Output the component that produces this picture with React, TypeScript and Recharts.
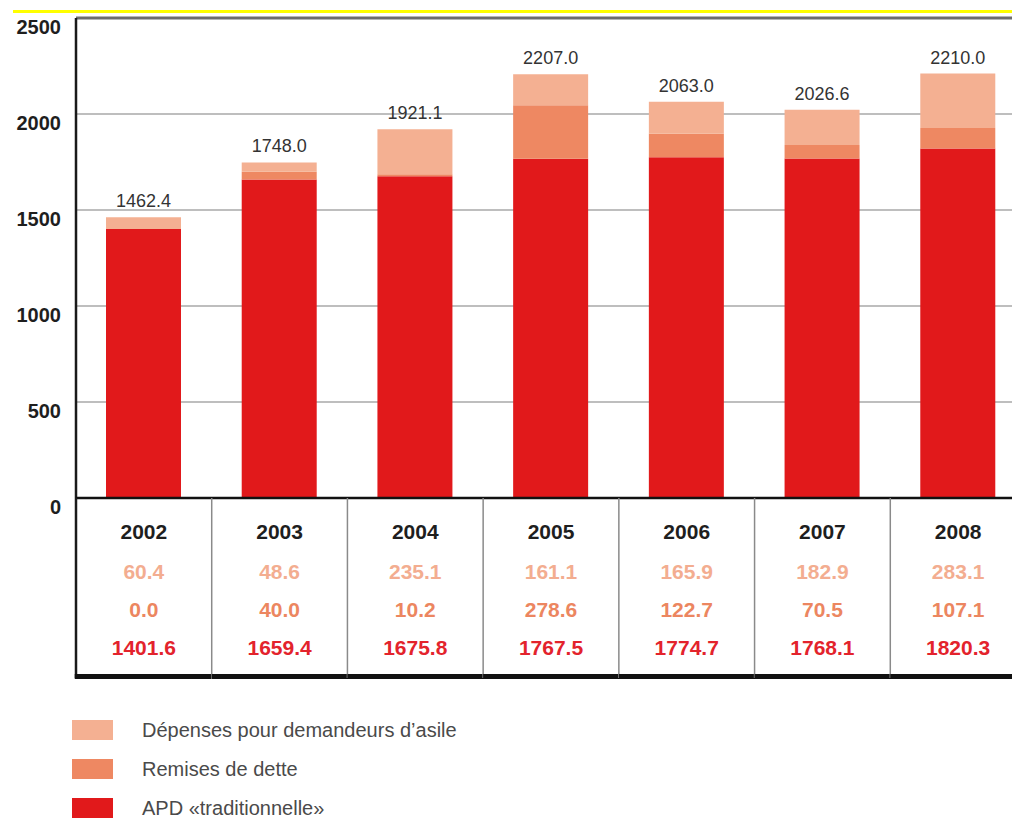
import { Bar, BarChart, CartesianGrid, LabelList, ReferenceLine, XAxis, YAxis } from "recharts";

// ─── data ───────────────────────────────────────────────────────────────
const YEARS = ["2002", "2003", "2004", "2005", "2006", "2007", "2008"];
const ASILE = [60.4, 48.6, 235.1, 161.1, 165.9, 182.9, 283.1];
const DETTE = [0.0, 40.0, 10.2, 278.6, 122.7, 70.5, 107.1];
const APD = [1401.6, 1659.4, 1675.8, 1767.5, 1774.7, 1768.1, 1820.3];
const TOTAL = [1462.4, 1748.0, 1921.1, 2207.0, 2063.0, 2026.6, 2210.0];
const Y_TICKS = [0, 500, 1000, 1500, 2000, 2500];

const C_ASILE = "#f4b092";
const C_DETTE = "#ee8862";
const C_APD = "#e1191b";

const LEGEND = [
  { label: "Dépenses pour demandeurs d’asile", color: C_ASILE },
  { label: "Remises de dette", color: C_DETTE },
  { label: "APD «traditionnelle»", color: C_APD },
];

const TABLE_ROWS = [
  { values: ASILE, color: "#f3ad90" },
  { values: DETTE, color: "#ec8660" },
  { values: APD, color: "#e3232c" },
];

const data = YEARS.map((year, i) => ({ year, apd: APD[i], dette: DETTE[i], asile: ASILE[i], total: TOTAL[i] }));

const FONT = "'Liberation Sans', Arial, sans-serif";

// chart geometry
const W = 1026;
const H = 690;
const Y_AXIS_W = 76;
const COL_W = (W - Y_AXIS_W) / YEARS.length;

// y axis labels sit a bit under the gridline
function YTick(props: any) {
  const { y, payload } = props;
  return (
    <text x={61} y={y + 16} textAnchor="end" fontFamily={FONT} fontSize={20} fontWeight={700} fill="#1e1e1e">
      {payload.value}
    </text>
  );
}

// x axis tick = one column of the data table
function TableTick(props: any) {
  const { x, y, payload, index } = props;
  const i = index ?? YEARS.indexOf(payload.value);
  const left = x - COL_W / 2;
  const rowY = [y + 81, y + 119, y + 157];
  return (
    <g>
      <line
        x1={left}
        x2={left}
        y1={y}
        y2={y + 180}
        stroke={i === 0 ? "#1a1a1a" : "#8a8a8a"}
        strokeWidth={i === 0 ? 2.5 : 1.5}
      />
      <rect x={left - (i === 0 ? 1.25 : 0)} y={y + 176} width={COL_W + 1} height={5} fill="#111" />
      <text x={x} y={y + 41} textAnchor="middle" fontFamily={FONT} fontSize={21} fontWeight={700} fill="#1e1e1e">
        {payload.value}
      </text>
      {TABLE_ROWS.map((r, k) => (
        <text key={k} x={x} y={rowY[k]} textAnchor="middle" fontFamily={FONT} fontSize={21} fontWeight={700} fill={r.color}>
          {r.values[i].toFixed(1)}
        </text>
      ))}
    </g>
  );
}

function TotalLabel(props: any) {
  const { x, y, width, index } = props;
  return (
    <text x={x + width / 2} y={y - 10} textAnchor="middle" fontFamily={FONT} fontSize={18} fill="#333">
      {TOTAL[index].toFixed(1)}
    </text>
  );
}

export default function App() {
  return (
    <div style={{ position: "absolute", left: 0, top: 0, width: 1012, height: 819, overflow: "hidden", background: "#fff" }}>
      {/* yellow rule on top */}
      <div style={{ position: "absolute", left: 13, right: 0, top: 10, height: 3, background: "#ffff00" }} />

      <div style={{ position: "absolute", left: 0, top: 0 }}>
        <BarChart width={W} height={H} data={data} margin={{ top: 18, right: 0, left: 0, bottom: 0 }} barSize={75}>
          <CartesianGrid vertical={false} stroke="#a8a8a8" strokeWidth={1.5} />
          <YAxis
            type="number"
            domain={[0, 2500]}
            ticks={Y_TICKS}
            interval={0}
            width={Y_AXIS_W}
            tickLine={false}
            axisLine={{ stroke: "#1a1a1a", strokeWidth: 2.5 }}
            tick={<YTick />}
          />
          <XAxis
            dataKey="year"
            height={H - 18 - 480}
            tickLine={false}
            tickSize={0}
            tickMargin={0}
            interval={0}
            axisLine={{ stroke: "#111", strokeWidth: 2.5 }}
            tick={<TableTick />}
          />
          <ReferenceLine y={2500} stroke="#6e6e6e" strokeWidth={3} />
          <Bar dataKey="apd" stackId="a" fill={C_APD} isAnimationActive={false} />
          <Bar dataKey="dette" stackId="a" fill={C_DETTE} isAnimationActive={false} />
          <Bar dataKey="asile" stackId="a" fill={C_ASILE} isAnimationActive={false}>
            <LabelList dataKey="total" content={<TotalLabel />} />
          </Bar>
        </BarChart>
      </div>

      {/* legend */}
      <div style={{ position: "absolute", left: 72, top: 710, fontFamily: FONT }}>
        {LEGEND.map((l) => (
          <div key={l.label} style={{ display: "flex", alignItems: "center", height: 39 }}>
            <div style={{ width: 41, height: 20, background: l.color }} />
            <span style={{ marginLeft: 29, fontSize: 20, color: "#4a4a4a", lineHeight: "20px" }}>{l.label}</span>
          </div>
        ))}
      </div>
    </div>
  );
}
